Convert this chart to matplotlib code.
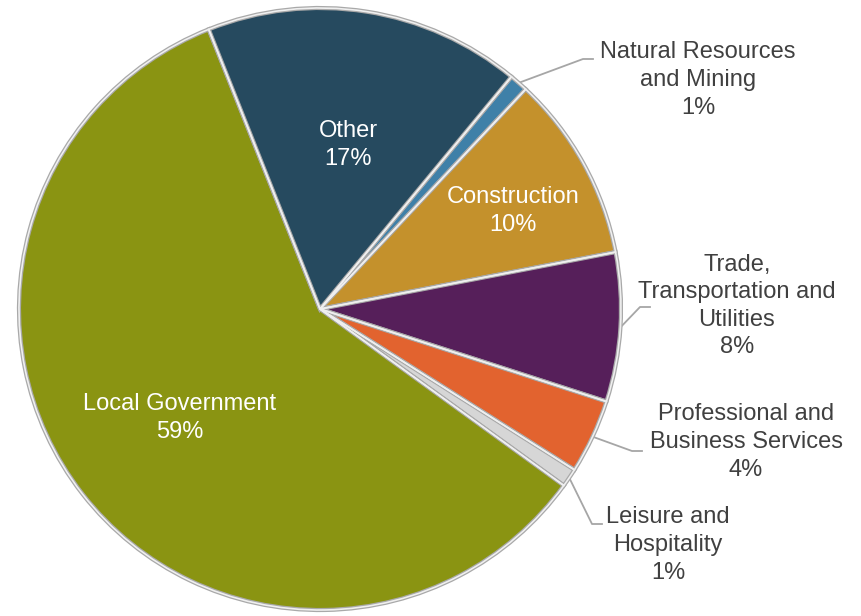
import numpy as np
import matplotlib.pyplot as plt
from matplotlib.patches import Wedge

plt.rcParams['font.family'] = ['Liberation Sans', 'DejaVu Sans']

# employment share by sector (percent)
sectors = ["Natural Resources\nand Mining", "Construction",
           "Trade,\nTransportation and\nUtilities",
           "Professional and\nBusiness Services",
           "Leisure and\nHospitality", "Local Government", "Other"]
shares = [1, 10, 8, 4, 1, 59, 17]
colors = ["#3f80a8", "#c4912c", "#561f5a", "#e2632f", "#d6d6d6", "#8a9412", "#264a5f"]
explode = [0, 0, 0, 0, 0, 0.02, 0]

# which labels sit inside the slices, and where the outside ones go (pixels)
inside = {1: (513, 211), 5: (180, 418), 6: (348, 145)}
outside = {0: ((583, 59), (698, 80)),
           2: ((640, 307), (737, 306)),
           3: ((632, 451), (746, 442)),
           4: ((592, 524), (668, 545))}

W, H = 861, 616
cx, cy, R = 320, 309, 301

fig = plt.figure(figsize=(W / 100, H / 100), dpi=100)
ax = fig.add_axes([0, 0, 1, 1])

wedges, _ = ax.pie(shares, colors=colors, explode=explode, startangle=50.5,
                   counterclock=False, center=(cx, H - cy), radius=R,
                   wedgeprops=dict(edgecolor="#a9a9a9", linewidth=3.0))
# light bevel line on top of the grey outline
for w in wedges:
    w.set_zorder(2)
    ax.add_patch(Wedge(w.center, w.r, w.theta1, w.theta2, facecolor='none',
                       edgecolor='#efefef', linewidth=1.2, zorder=3))

ax.set_xlim(0, W)
ax.set_ylim(0, H)
ax.set_aspect('equal')
ax.axis('off')

for i, (name, val) in enumerate(zip(sectors, shares)):
    text = f"{name}\n{val}%"
    if i in inside:
        x, y = inside[i]
        ax.text(x, H - y, text, ha='center', va='center', color='white',
                fontsize=17, linespacing=1.4, zorder=5)
    else:
        (ex, ey), (tx, ty) = outside[i]
        w = wedges[i]
        mid = np.deg2rad((w.theta1 + w.theta2) / 2)
        sx = w.center[0] + w.r * np.cos(mid)
        sy = w.center[1] + w.r * np.sin(mid)
        ax.plot([sx, ex, ex + 10], [sy, H - ey, H - ey], color="#a6a6a6",
                lw=1.3, zorder=1)
        ax.text(tx, H - ty, text, ha='center', va='center', color='#404040',
                fontsize=17, linespacing=1.33)

fig.savefig("out.png", dpi=100)
